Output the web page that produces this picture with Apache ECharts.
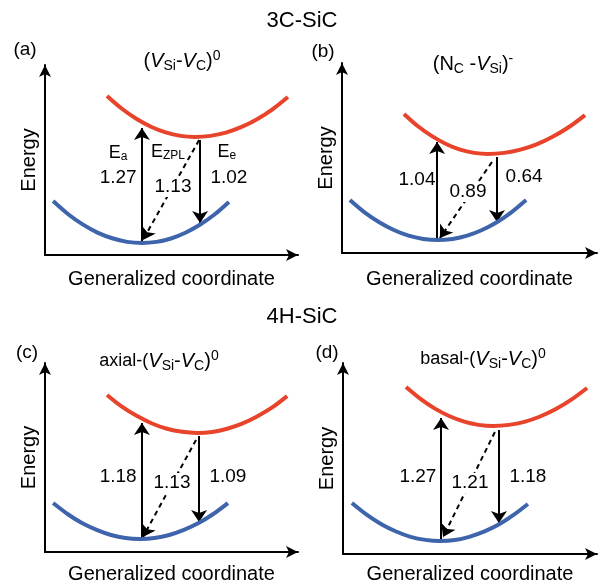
<!DOCTYPE html>
<html>
<head>
<meta charset="utf-8">
<script src="https://cdn.jsdelivr.net/npm/echarts@6/dist/echarts.min.js"></script>
<style>
  html, body { margin: 0; padding: 0; background: #fff; }
  #main { width: 605px; height: 587px; }
</style>
</head>
<body>
<div id="main"></div>
<script>
// energies (eV) for each panel: (a) (b) (c) (d)
var absorption = [1.27, 1.04, 1.18, 1.27];
var zpl = [1.13, 0.89, 1.13, 1.21];
var emission = [1.02, 0.64, 1.09, 1.18];

// ground state curve (blue), arbitrary units 0-100
var groundA = [[3.2,28.4],[9.05,21.6],[14.9,16.1],[20.75,11.8],[26.6,8.8],[32.45,6.9],[38.3,6.3],[44.0,6.9],[49.8,8.7],[55.5,11.7],[61.2,15.9],[67.0,21.3],[72.7,27.9]];
var groundB = [[3.1,27.9],[8.85,21.4],[14.6,16.2],[20.35,12.1],[26.1,9.1],[31.85,7.4],[37.6,6.8],[43.4,7.4],[49.1,9.1],[54.9,12.1],[60.7,16.2],[66.4,21.4],[72.2,27.9]];
var groundC = [[3.2,25.9],[8.9,20.1],[14.6,15.3],[20.4,11.7],[26.1,9.0],[31.8,7.4],[37.5,6.9],[43.3,7.4],[49.1,9.0],[54.9,11.7],[60.7,15.3],[66.5,20.1],[72.3,25.9]];
var groundD = [[3.5,26.7],[9.3,20.6],[15.1,15.6],[20.9,11.8],[26.6,9.0],[32.4,7.4],[38.2,6.8],[44.0,7.3],[49.7,9.0],[55.5,11.7],[61.3,15.4],[67.0,20.3],[72.8,26.2]];
// excited state curve (red)
var excitedA = [[24.5,83.7],[30.3,77.1],[36.1,71.7],[41.9,67.5],[47.7,64.5],[53.5,62.7],[59.3,62.1],[65.4,62.7],[71.5,64.4],[77.7,67.4],[83.8,71.5],[89.9,76.7],[96.0,83.2]];
var excitedB = [[24.3,73.2],[29.8,66.7],[35.3,61.5],[40.8,57.4],[46.3,54.4],[51.8,52.7],[57.3,52.1],[63.6,52.7],[70.0,54.4],[76.3,57.2],[82.6,61.2],[89.0,66.3],[95.3,72.6]];
var excitedC = [[24.5,83.1],[30.4,76.9],[36.4,71.9],[42.3,68.0],[48.2,65.2],[54.2,63.6],[60.1,63.0],[66.0,63.5],[72.0,65.2],[77.9,67.9],[83.8,71.7],[89.8,76.5],[95.7,82.5]];
var excitedD = [[24.8,87.4],[30.5,81.2],[36.2,76.1],[42.0,72.1],[47.7,69.3],[53.4,67.6],[59.1,67.0],[65.3,67.6],[71.4,69.2],[77.6,72.0],[83.8,75.9],[89.9,80.8],[96.1,86.9]];

// arrows [x, yFrom, yTo]
var upArrows = [[38.3,6.3,66.8],[37.3,6.8,58.4],[38.3,6.9,68.3],[38.6,6.8,71.2]];
var downArrows = [[61.3,60.5,16.8],[60.8,50.5,16.3],[60.9,61.4,15.9],[61.4,64.9,16.2]];
// dashed zpl arrow [x1, y1, x2, y2]
var zplArrows = [[60.9,60.5,38.7,7.9],[58.8,47.9,38.4,7.9],[59.7,59.3,38.7,7.9],[59.8,63.9,39.4,8.9]];
// where the numbers sit [absX, absY, zplX, zplY, emX, emY]
var numberPos = [
  [28.9,40.5,50.6,35.8,72.7,40.5],
  [29.4,38.4,49.4,32.1,71.4,40.0],
  [28.9,39.7,50.2,36.5,72.3,39.7],
  [29.5,40.3,50.0,37.2,72.8,40.3]
];
// E_a, E_ZPL, E_e symbols (panel a only)
var symbolNames = ['{e|E}{s|a}', '{e|E}{s|ZPL}', '{e|E}{s|e}'];
var symbolPos = [[28.9,53.7],[48.6,54.2],[71.9,54.2]];

var panelLetters = ['(a)', '(b)', '(c)', '(d)'];
var groupNames = ['3C-SiC', '4H-SiC'];
var defectNames = [
  '{p|(}{v|V}{s|Si}{p|-}{v|V}{s|C}{p|)}{u|0}',
  '{p|(N}{s|C}{p| -}{v|V}{s|Si}{p|)}{u|-}',
  '{q|axial-(}{v|V}{s|Si}{p|-}{v|V}{s|C}{p|)}{u|0}',
  '{q|basal-(}{v|V}{s|Si}{p|-}{v|V}{s|C}{p|)}{u|0}'
];

var grounds = [groundA, groundB, groundC, groundD];
var exciteds = [excitedA, excitedB, excitedC, excitedD];

var FONT = 'Liberation Sans, Arial, sans-serif';
var RED = '#e8432b';
var BLUE = '#3e64ab';

var grids = [
  { left: 45, top: 65, width: 253, height: 190 },
  { left: 342, top: 63, width: 255, height: 190 },
  { left: 45, top: 363, width: 253, height: 189 },
  { left: 343, top: 363, width: 254, height: 191 }
];
var xNameGap = [14, 16, 12, 10];

var richName = {
  p: { fontSize: 20, fontFamily: FONT, fontWeight: 'normal', color: '#000', lineHeight: 24, verticalAlign: 'middle' },
  q: { fontSize: 18, fontFamily: FONT, fontWeight: 'normal', color: '#000', lineHeight: 24, verticalAlign: 'middle' },
  v: { fontSize: 20, fontFamily: FONT, fontWeight: 'normal', fontStyle: 'italic', color: '#000', lineHeight: 24, verticalAlign: 'middle' },
  s: { fontSize: 14, fontFamily: FONT, fontWeight: 'normal', color: '#000', lineHeight: 13, verticalAlign: 'bottom' },
  u: { fontSize: 14, fontFamily: FONT, fontWeight: 'normal', color: '#000', lineHeight: 13, verticalAlign: 'top' }
};

var xAxes = [], yAxes = [], series = [], titles = [];
var axisLineStyle = { show: true, symbol: ['none', 'arrow'], symbolSize: [9, 12], lineStyle: { color: '#000', width: 2 } };
var numLabel = { show: true, position: 'inside', formatter: '{b}', fontSize: 19, fontFamily: FONT, color: '#000' };

for (var i = 0; i < 4; i++) {
  xAxes.push({
    gridIndex: i, type: 'value', min: 0, max: 100,
    name: 'Generalized coordinate', nameLocation: 'middle', nameGap: xNameGap[i],
    nameTextStyle: { fontSize: 20, fontFamily: FONT, color: '#000' },
    axisLine: axisLineStyle, axisTick: { show: false }, axisLabel: { show: false }, splitLine: { show: false }
  });
  yAxes.push({
    gridIndex: i, type: 'value', min: 0, max: 100,
    name: 'Energy', nameLocation: 'middle', nameGap: 6,
    nameTextStyle: { fontSize: 20, fontFamily: FONT, color: '#000' },
    axisLine: axisLineStyle, axisTick: { show: false }, axisLabel: { show: false }, splitLine: { show: false }
  });

  series.push({
    type: 'line', xAxisIndex: i, yAxisIndex: i, data: grounds[i], smooth: 0.3,
    symbol: 'none', lineStyle: { color: BLUE, width: 4 }, z: 3
  });
  series.push({
    type: 'line', xAxisIndex: i, yAxisIndex: i, data: exciteds[i], smooth: 0.3,
    symbol: 'none', lineStyle: { color: RED, width: 4 }, z: 3
  });

  var up = upArrows[i], dn = downArrows[i], zp = zplArrows[i];
  series.push({
    type: 'lines', coordinateSystem: 'cartesian2d', xAxisIndex: i, yAxisIndex: i,
    symbol: ['none', 'arrow'], symbolSize: 12,
    lineStyle: { color: '#000', width: 2, opacity: 1, curveness: 0 },
    data: [
      { coords: [[up[0], up[1]], [up[0], up[2]]] },
      { coords: [[dn[0], dn[1]], [dn[0], dn[2]]] }
    ], z: 2
  });
  series.push({
    type: 'lines', coordinateSystem: 'cartesian2d', xAxisIndex: i, yAxisIndex: i,
    symbol: ['none', 'arrow'], symbolSize: 12,
    lineStyle: { color: '#000', width: 2, type: [5, 4], opacity: 1, curveness: 0 },
    data: [{ coords: [[zp[0], zp[1]], [zp[2], zp[3]]] }], z: 2
  });

  var np = numberPos[i];
  series.push({
    type: 'scatter', xAxisIndex: i, yAxisIndex: i, symbolSize: 0, z: 10,
    itemStyle: { opacity: 1 }, label: numLabel,
    data: [
      { name: absorption[i].toFixed(2), value: [np[0], np[1]] },
      { name: emission[i].toFixed(2), value: [np[4], np[5]] }
    ]
  });
  // zpl number sits on the dashed arrow, white box hides it (own layer)
  series.push({
    type: 'scatter', xAxisIndex: i, yAxisIndex: i, symbol: 'rect', symbolSize: [38, 20],
    zlevel: 1, z: 10,
    itemStyle: { color: '#fff', opacity: 1 }, label: numLabel,
    data: [{ name: zpl[i].toFixed(2), value: [np[2], np[3]] }]
  });

  titles.push({
    text: defectNames[i], left: [182, 473, 159, 483][i], top: [49, 52, 349, 347][i],
    textAlign: 'center', padding: 0,
    textStyle: { fontWeight: 'normal', rich: richName }
  });
  titles.push({
    text: panelLetters[i], left: [25, 323, 27, 327][i], top: [40, 42, 343, 343][i],
    textAlign: 'center', padding: 0,
    textStyle: { fontSize: 19, fontFamily: FONT, fontWeight: 'normal', color: '#000' }
  });
}

series.push({
  type: 'scatter', xAxisIndex: 0, yAxisIndex: 0, symbolSize: 0, z: 10,
  itemStyle: { opacity: 1 },
  label: {
    show: true, position: 'inside', formatter: '{b}',
    rich: {
      e: { fontSize: 18, fontFamily: FONT, color: '#000', lineHeight: 20, verticalAlign: 'middle' },
      s: { fontSize: 12, fontFamily: FONT, color: '#000', lineHeight: 12, verticalAlign: 'bottom' }
    }
  },
  data: symbolPos.map(function (p, k) { return { name: symbolNames[k], value: p }; })
});

titles.push({
  text: groupNames[0], left: 302, top: 10, textAlign: 'center', padding: 0,
  textStyle: { fontSize: 22, fontFamily: FONT, fontWeight: 'normal', color: '#000' }
});
titles.push({
  text: groupNames[1], left: 302, top: 306, textAlign: 'center', padding: 0,
  textStyle: { fontSize: 22, fontFamily: FONT, fontWeight: 'normal', color: '#000' }
});

var myChart = echarts.init(document.getElementById('main'), null, { renderer: 'canvas' });
myChart.setOption({
  animation: false,
  backgroundColor: '#fff',
  title: titles,
  grid: grids,
  xAxis: xAxes,
  yAxis: yAxes,
  series: series
});
</script>
</body>
</html>
